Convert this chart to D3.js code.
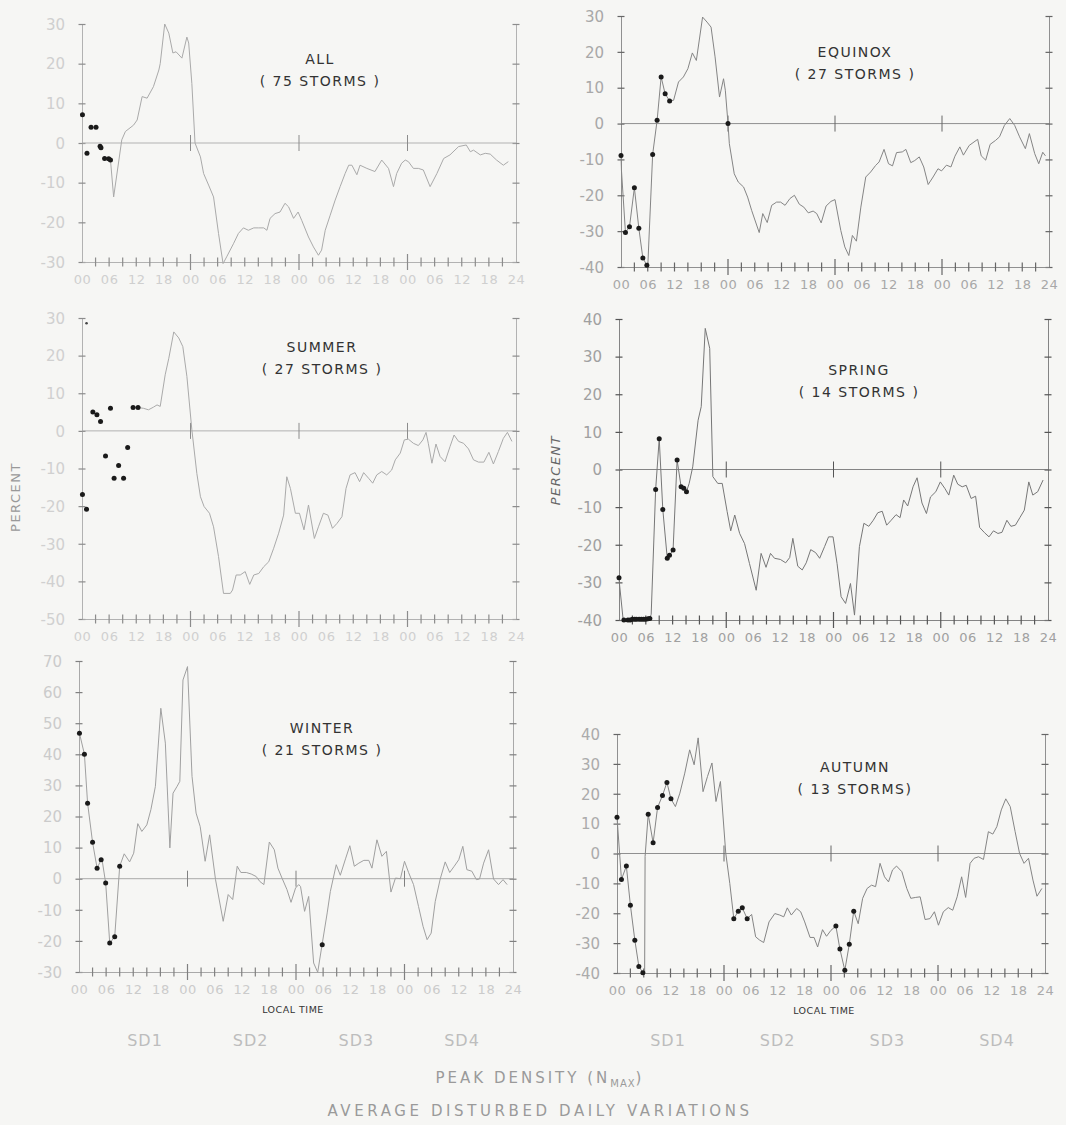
<!DOCTYPE html>
<html><head><meta charset="utf-8">
<script src="https://cdn.jsdelivr.net/npm/d3@7"></script>
<style>html,body{margin:0;padding:0;background:#f6f6f4;}svg{display:block;}</style>
</head><body>
<script>
// ---------- DATA ----------
const xTickLabels = ["00","06","12","18","00","06","12","18","00","06","12","18","00","06","12","18","24"];
const sdLabels = ["SD1","SD2","SD3","SD4"];

const allTitle = ["ALL", "( 75  STORMS )"];
const allLine = [[5.9,-4],[6.3,-4.3],[7,-13.6],[8.8,0.8],[9.6,2.9],[11.4,4.5],[12.2,5.8],[13.3,11.7],[14.4,11.3],[15.8,14.2],[17,18.4],[17.3,20],[18.3,30],[19.2,27.7],[20.1,22.7],[20.8,23],[22.1,21.4],[23.2,26.7],[23.6,25.2],[24.3,15],[25,0],[26.2,-3.5],[26.9,-7.7],[28,-10.6],[29.1,-13.6],[30.2,-22.8],[31.2,-30.4],[32,-28.7],[33.5,-25.4],[34.6,-22.8],[35.7,-21.4],[36.8,-22],[38,-21.4],[39,-21.4],[40.2,-21.4],[40.9,-22],[41.6,-19],[42.7,-17.8],[43.8,-17.4],[44.9,-15.2],[45.7,-16.1],[46.8,-19],[47.8,-17.4],[48.6,-19.5],[50.1,-23.7],[51.2,-26.2],[52.3,-28.3],[53,-27],[53.8,-22],[54.9,-18.2],[56,-14.4],[57.1,-11],[58.2,-7.7],[59,-5.6],[59.7,-5.6],[60.8,-8],[61.5,-5.6],[63,-6.4],[64.8,-7.2],[66.3,-4.3],[67.8,-6.4],[68.9,-11],[69.6,-7.7],[70.7,-5.1],[71.5,-4.3],[72.2,-4.7],[73.3,-6.4],[74.4,-6.4],[75.5,-6.8],[77,-11],[78.5,-7.7],[80,-3.9],[81.4,-3],[83.3,-0.9],[85,-0.5],[85.9,-2.2],[86.6,-1.8],[88.1,-3],[89.2,-2.6],[90.3,-2.8],[91.7,-4.3],[93.2,-5.6],[94.3,-4.7]];
const allDots = [[0.1,7.1],[1.1,-2.6],[2,4],[3.1,4],[4,-0.8],[4.2,-1.2],[5,-3.9],[5.9,-4],[6.3,-4.3]];

const equinoxTitle = ["EQUINOX", "( 27  STORMS )"];
const equinoxLine = [[0,-8.9],[0.1,-13],[1,-30.4],[1.9,-28.8],[3,-17.9],[4,-29.2],[4.9,-37.5],[5.8,-39.5],[6,-40],[7.1,-8.6],[8.1,0.9],[9,13],[9.9,8.3],[10.9,6.3],[11.8,6.5],[12.9,11.6],[14,13],[15,15.3],[16,19.7],[16.9,17.6],[18.3,29.7],[19.3,28.3],[20.2,26.9],[21.1,18.6],[22.1,7.4],[23,12.5],[23.4,9.3],[24,0],[24.3,-5.6],[25.4,-14],[26.3,-16.3],[27.5,-17.7],[28.4,-20.5],[29.3,-24.2],[31,-30.4],[31.8,-25.1],[32.8,-27.6],[33.8,-22.8],[34.9,-21.9],[35.8,-21.9],[36.8,-22.8],[37.9,-20.9],[38.9,-20],[40,-22.5],[41,-23.3],[42,-24.9],[43.1,-24.4],[43.9,-25.1],[44.9,-27.7],[46,-23],[47.1,-21.7],[48,-21.2],[49.3,-29.8],[50.2,-34.4],[51.1,-36.8],[51.9,-31.2],[52.8,-32.8],[53.8,-23.3],[54.9,-14.9],[56,-13.5],[57.1,-11.7],[57.9,-10.7],[59,-7.2],[60,-11.2],[60.9,-11.8],[61.8,-8.1],[63.1,-7.9],[63.9,-7.2],[65,-10.9],[65.9,-10.3],[66.9,-9.3],[67.9,-12.1],[68.9,-17],[70,-14.9],[71.1,-12.6],[71.9,-13.2],[73,-11.6],[74,-12.1],[74.9,-9.1],[76,-6.5],[76.8,-8.8],[78.1,-6.1],[80,-4.4],[80.8,-9],[81.8,-10.2],[82.8,-5.8],[84,-4.7],[84.9,-3.7],[86,-0.5],[87.2,1.4],[88.3,-0.5],[89.4,-3.7],[90.7,-7],[91.6,-2.8],[92.8,-8.4],[93.7,-11.2],[94.6,-8],[95.2,-9]];
const equinoxDots = [[0,-8.9],[1,-30.4],[1.9,-28.8],[3,-17.9],[4,-29.2],[4.9,-37.5],[5.8,-39.5],[7.1,-8.6],[8.1,0.9],[9,13],[9.9,8.3],[10.9,6.3],[24,0]];

const summerTitle = ["SUMMER", "( 27  STORMS )"];
const summerLine = [[11.3,6.2],[12.4,6.2],[13.6,6],[14.7,5.6],[15.8,6.3],[16.6,6.9],[17.3,6.5],[18.4,14.9],[19.2,19.3],[20.3,26.3],[21.4,24.7],[22.3,22.4],[23.2,14.5],[24.3,0.3],[25.4,-11.3],[26.2,-17.5],[27,-20.1],[28.2,-21.9],[29.1,-25.5],[30.2,-33.4],[31.3,-43.2],[32.8,-43.2],[33.3,-42.3],[34.1,-38.3],[35,-38.3],[36.1,-37.4],[37.1,-40.8],[38,-38.3],[39.1,-37.9],[40.2,-36.1],[41.3,-34.8],[42.4,-31.2],[43.5,-27.2],[44.6,-22.4],[45.3,-12.2],[46.1,-15.3],[47.2,-21.9],[48.1,-21.9],[49.1,-26.3],[50.1,-19.7],[51.4,-28.6],[52.3,-25.5],[53.4,-21.9],[54.4,-22.4],[55.4,-25.9],[56.4,-24.6],[57.5,-22.8],[58.4,-15.3],[59.3,-11.7],[60.4,-11.1],[61.4,-13.5],[62.3,-11.1],[63.4,-12.6],[64.3,-13.9],[65.2,-11.7],[66.3,-10.8],[67.4,-11.7],[68.5,-10.4],[69.3,-7.7],[70.4,-5.9],[71.3,-2.4],[72.2,-2.2],[73.3,-3.3],[74.4,-3.9],[75.4,-2.4],[76.1,-0.4],[76.6,-3.3],[77.4,-8.6],[78.3,-3.5],[79.2,-6.8],[80.3,-8.2],[81.4,-4.2],[82.3,-1.1],[83.3,-2.8],[84.4,-3.3],[85.5,-4.8],[86.6,-7.7],[87.7,-8.3],[88.9,-8.3],[90,-5.7],[91,-8.8],[92.1,-5.5],[93.2,-2],[94.1,-0.4],[95.1,-2.8]];
const summerDots = [[0.1,-16.9],[1,-20.8],[2.4,5],[3.3,4.3],[4.1,2.5],[5.2,-6.7],[6.3,6],[7.1,-12.6],[8.1,-9.2],[9.2,-12.6],[10.1,-4.4],[11.3,6.2],[12.4,6.2]];
const summerSmallDots = [[1,28.6]];

const springTitle = ["SPRING", "( 14  STORMS )"];
const springLine = [[0,-28.8],[0.1,-30.3],[0.9,-39.6],[1.1,-40],[2,-40],[3,-39.8],[3.9,-39.8],[5,-39.8],[6,-39.8],[6.9,-39.6],[7.2,-38.5],[8.2,-5.3],[9,8.2],[9.8,-10.6],[10.8,-23.6],[11.3,-22.8],[12.1,-21.4],[13,2.5],[13.9,-4.6],[14.5,-5],[15.1,-5.9],[15.7,-3.7],[16.5,0.7],[17.7,13.1],[18.4,16.7],[19.3,37.5],[20.3,32.2],[21,-1.9],[22.1,-3.7],[23.1,-3.7],[24.2,-11.2],[25,-16.3],[25.9,-12.1],[27,-17],[28.1,-19.7],[29.2,-25],[30.7,-32.1],[31.8,-22.3],[32.9,-26],[33.9,-22.3],[34.8,-23.6],[36.1,-23.9],[37.3,-24.8],[38.2,-23.4],[38.9,-18.3],[40,-25.7],[41,-26.7],[41.9,-24.8],[42.9,-21.3],[44,-22.1],[44.9,-23.6],[46,-20.5],[46.9,-17.9],[47.9,-17.9],[48.8,-25],[49.7,-33.8],[50.7,-35.6],[51.8,-30.3],[52.7,-38.7],[53.8,-20.5],[54.8,-14.3],[55.9,-15.1],[56.9,-13.5],[57.9,-11.5],[58.9,-11.1],[59.9,-14.8],[60.9,-13.5],[62,-12],[62.9,-12.8],[63.7,-8.1],[64.6,-9.7],[65.8,-4.6],[66.7,-2.2],[67.8,-8.9],[68.8,-11.7],[69.7,-7.3],[70.9,-5.9],[71.9,-3.3],[72.9,-5],[73.8,-6.8],[74.9,-1.5],[75.8,-3.9],[76.8,-4.6],[77.7,-4.2],[78.8,-7.7],[79.8,-7.1],[80.7,-15.4],[81.8,-16.8],[82.8,-17.9],[83.8,-16.3],[84.8,-17],[85.7,-16.7],[86.8,-13.5],[87.7,-15.1],[88.7,-14.8],[89.7,-12.8],[90.7,-10.8],[91.7,-3.3],[92.6,-6.8],[93.7,-5.9],[94.9,-2.8]];
const springDots = [[0,-28.8],[1.1,-40],[2,-40],[2.5,-40],[3,-39.8],[3.5,-39.8],[3.9,-39.8],[4.5,-39.8],[5,-39.8],[5.5,-39.8],[6,-39.8],[6.5,-39.7],[6.9,-39.6],[8.2,-5.3],[9,8.2],[9.8,-10.6],[10.8,-23.6],[11.3,-22.8],[12.1,-21.4],[13,2.5],[13.9,-4.6],[14.5,-5],[15.1,-5.9]];

const winterTitle = ["WINTER", "( 21  STORMS )"];
const winterLine = [[0.1,46.8],[1.2,40],[1.9,24.3],[3,11.7],[4,3.4],[4.9,6.1],[5.1,6.1],[5.9,-1.4],[6.8,-20.7],[7.9,-18.7],[9,4],[10,8],[11.2,5.4],[12.1,8.2],[13,17.7],[13.9,15.2],[15,17.3],[15.9,22.2],[16.9,29.7],[18.1,54.8],[19.1,43.6],[20.1,9.9],[20.8,27.5],[21.7,29.7],[22.3,31.3],[23,63.9],[24,68.2],[25,32.9],[25.9,21.1],[26.8,16.8],[27.9,5.6],[28.9,14.1],[30.2,-0.3],[31.9,-13.7],[33,-5.1],[34,-6.7],[35,4],[35.8,2],[37,2],[38.1,1.5],[39.2,0.7],[40,-0.9],[40.9,-1.9],[42.1,11.8],[43.2,9.3],[44,3.4],[44.9,0.2],[46,-3.5],[46.9,-7.6],[47.9,-3],[48.6,-1.9],[49,-2.5],[49.9,-10.5],[50.8,-5.7],[51.9,-27.1],[52.8,-30.1],[53.8,-20.9],[54.9,-11],[55.6,-4.1],[56.9,4.5],[57.8,1.1],[59,6.6],[59.9,10.6],[60.9,4],[61.9,5],[63,5.9],[64.1,5.9],[64.8,3.4],[65.9,12.5],[67,7.2],[68,8.8],[69,-4.3],[70,0.2],[71.1,0],[72,5.6],[72.9,2],[74,-1.9],[75.1,-8.9],[76.1,-15.3],[77,-19.6],[77.9,-17.5],[78.8,-7.3],[79.9,-0.1],[81,5.4],[82,2],[83,4],[84,6.1],[84.9,10.4],[85.8,2.9],[86.9,2.4],[87.9,-0.3],[88.6,-0.1],[89.5,5],[90.6,9.3],[91.7,-0.1],[92.8,-1.9],[93.8,-0.3],[94.7,-1.9]];
const winterDots = [[0.1,46.8],[1.2,40],[1.9,24.3],[3,11.7],[4,3.4],[4.9,6.1],[5.9,-1.4],[6.8,-20.7],[7.9,-18.7],[9,4],[53.8,-21.2]];

const autumnTitle = ["AUTUMN", "( 13  STORMS)"];
const autumnLine = [[0,12.1],[0.2,8],[1,-8.7],[2.1,-4.2],[3,-17.3],[4,-29],[4.9,-37.8],[5.8,-39.9],[6.2,-40],[6.3,-1],[7,13.1],[8.1,3.6],[9.1,15.4],[10.2,19.4],[11.2,23.8],[12.1,18.3],[13.1,15.7],[14.1,20.2],[15.2,26.9],[16.3,34.7],[17.3,29.7],[18.2,38.7],[19.3,20.7],[20.3,25.8],[21.3,30.3],[22.2,17.4],[23.2,24.1],[24.4,0],[25.3,-10],[26.2,-21.8],[27.2,-19.3],[28.1,-18.2],[29.2,-21.8],[30.2,-20.4],[31.1,-27.9],[32,-29],[32.9,-29.8],[34.1,-22.9],[35.4,-20.1],[36.5,-20.6],[37.4,-21.2],[38.2,-18.2],[39.1,-20.6],[40.3,-18.4],[41.2,-19.5],[42.1,-22.9],[43.3,-28.1],[44.2,-28.1],[45,-31.3],[46.1,-25.5],[47,-27.7],[48,-25.7],[49.1,-24.3],[50,-32],[51.1,-39.1],[52.1,-30.4],[53.1,-19.3],[54.1,-23.5],[55.1,-15],[56.1,-11.7],[57.1,-10.6],[58,-11.1],[59,-3.3],[60,-7.8],[60.9,-9.5],[61.8,-5.5],[62.7,-4.2],[63.9,-6.1],[65,-11.7],[65.9,-15],[67,-14.7],[68,-14.5],[69.1,-22.1],[70.2,-21.8],[71.2,-19.5],[72.1,-24],[73.2,-19.5],[74.3,-18.1],[75.3,-19],[76.3,-14.5],[77.3,-7.8],[78.2,-14.7],[79.2,-3.3],[80.1,-1.6],[81.1,-1.1],[82.2,-2],[83.3,7.3],[84.3,6.5],[85.2,9],[86.2,14.6],[87.2,18.3],[88.2,15.7],[89.3,7.3],[90.3,0],[91.3,-3.3],[92.3,-1.6],[93.3,-8.9],[94.2,-14.3],[95.3,-11.7]];
const autumnDots = [[0,12.1],[1,-8.7],[2.1,-4.2],[3,-17.3],[4,-29],[4.9,-37.8],[5.8,-39.9],[7,13.1],[8.1,3.6],[9.1,15.4],[10.2,19.4],[11.2,23.8],[12.1,18.3],[26.2,-21.8],[27.2,-19.3],[28.1,-18.2],[29.2,-21.8],[49.1,-24.3],[50,-32],[51.1,-39.1],[52.1,-30.4],[53.1,-19.3]];

// ---------- LAYOUT ----------
const panels = [
  {title: allTitle, line: allLine, dots: allDots, small: [], ymin:-30, ymax:30, x0:82, x1:516, yTop:24, yBot:262, tx:320, ty:64, ink:"#aaaaaa", tick:"#8c8c8c", lab:"#cfcfcf"},
  {title: equinoxTitle, line: equinoxLine, dots: equinoxDots, small: [], ymin:-40, ymax:30, x0:621, x1:1049, yTop:16, yBot:267, tx:855, ty:57, ink:"#858585", tick:"#666666", lab:"#a8a8a8"},
  {title: summerTitle, line: summerLine, dots: summerDots, small: summerSmallDots, ymin:-50, ymax:30, x0:82, x1:516, yTop:318, yBot:619, tx:322, ty:352, ink:"#aaaaaa", tick:"#8c8c8c", lab:"#d0d0d0", percent:{x:20, y:497, italic:false}},
  {title: springTitle, line: springLine, dots: springDots, small: [], ymin:-40, ymax:40, x0:619, x1:1048, yTop:319, yBot:620, tx:859, ty:375, ink:"#777777", tick:"#555555", lab:"#a0a0a0", percent:{x:560, y:470, italic:true}},
  {title: winterTitle, line: winterLine, dots: winterDots, small: [], ymin:-30, ymax:70, x0:79, x1:513, yTop:661, yBot:972, tx:322, ty:733, ink:"#a0a0a0", tick:"#808080", lab:"#cbcbcb"},
  {title: autumnTitle, line: autumnLine, dots: autumnDots, small: [], ymin:-40, ymax:40, x0:617, x1:1045, yTop:734, yBot:973, tx:855, ty:772, ink:"#858585", tick:"#666666", lab:"#ababab"}
];

const svg = d3.select("body").append("svg").attr("width",1066).attr("height",1125);
svg.append("rect").attr("width",1066).attr("height",1125).attr("fill","#f6f6f4");

const FONT = "'DejaVu Sans', sans-serif";

panels.forEach(p => {
  const g = svg.append("g");
  const x = d3.scaleLinear().domain([0,96]).range([p.x0,p.x1]);
  const y = d3.scaleLinear().domain([p.ymin,p.ymax]).range([p.yBot,p.yTop]);
  const yTicks = d3.range(p.ymin, p.ymax+0.1, 10);

  // left axis
  const yAxisL = d3.axisLeft(y).tickValues(yTicks).tickSize(0).tickFormat(d => d);
  const gl = g.append("g").attr("transform",`translate(${p.x0},0)`).call(yAxisL);
  gl.select(".domain").attr("stroke",p.ink).attr("stroke-width",0.9);
  gl.selectAll("text").attr("x",-17).attr("font-family",FONT).attr("font-size",15)
    .attr("fill",p.lab).attr("dy","0.35em");
  gl.selectAll(".tick").append("line").attr("x1",-3.5).attr("x2",3.5).attr("stroke",p.tick).attr("stroke-width",1.2);

  // right axis
  const yAxisR = d3.axisRight(y).tickValues(yTicks).tickSize(0).tickFormat("");
  const gr = g.append("g").attr("transform",`translate(${p.x1},0)`).call(yAxisR);
  gr.select(".domain").attr("stroke",p.ink).attr("stroke-width",0.9);
  gr.selectAll(".tick").append("line").attr("x1",-3.5).attr("x2",3.5).attr("stroke",p.tick).attr("stroke-width",1.2);

  // bottom axis
  const xAxis = d3.axisBottom(x).tickValues(d3.range(0,97,6)).tickSize(0).tickFormat((d,i)=>xTickLabels[i]);
  const gb = g.append("g").attr("transform",`translate(0,${p.yBot})`).call(xAxis);
  gb.select(".domain").attr("stroke",p.ink).attr("stroke-width",0.9);
  gb.selectAll("text").attr("y",17).attr("dy","0.35em").attr("font-family",FONT).attr("font-size",13)
    .attr("fill",p.lab).attr("letter-spacing",0.5);
  // small + ticks every 3 h, tall ones at day boundaries
  g.append("g").attr("class","xminor").selectAll("line").data(d3.range(3,96,3)).join("line")
    .attr("x1",d=>x(d)).attr("x2",d=>x(d))
    .attr("y1",d=> d%24===0 ? p.yBot-8 : p.yBot-4.5)
    .attr("y2",d=> d%24===0 ? p.yBot+8 : p.yBot+4.5)
    .attr("stroke",p.tick).attr("stroke-width",1.2);

  // zero line with day ticks
  g.append("line").attr("x1",p.x0).attr("x2",p.x1).attr("y1",y(0)).attr("y2",y(0))
    .attr("stroke",p.ink).attr("stroke-width",0.9);
  g.append("g").attr("class","zday").selectAll("line").data([24,48,72]).join("line")
    .attr("x1",d=>x(d)).attr("x2",d=>x(d)).attr("y1",y(0)-8).attr("y2",y(0)+8)
    .attr("stroke",p.tick).attr("stroke-width",1);

  // data line
  const lineGen = d3.line().x(d=>x(d[0])).y(d=>y(d[1]));
  g.append("path").datum(p.line).attr("d",lineGen).attr("fill","none")
    .attr("stroke",p.ink).attr("stroke-width",1).attr("stroke-linejoin","round");

  // dots
  g.append("g").selectAll("circle").data(p.dots).join("circle")
    .attr("cx",d=>x(d[0])).attr("cy",d=>y(d[1])).attr("r",2.5).attr("fill","#1a1a1a");
  g.append("g").selectAll("circle").data(p.small).join("circle")
    .attr("cx",d=>x(d[0])).attr("cy",d=>y(d[1])).attr("r",1.3).attr("fill","#444");

  // titles
  p.title.forEach((t,i)=>{
    g.append("text").attr("x",p.tx).attr("y",p.ty+i*22).attr("text-anchor","middle")
      .attr("font-family",FONT).attr("font-size",14).attr("letter-spacing",1.5)
      .attr("fill","#333").text(t);
  });

  if (p.percent) {
    g.append("text").attr("transform",`translate(${p.percent.x},${p.percent.y}) rotate(-90)`)
      .attr("text-anchor","middle").attr("font-family",FONT).attr("font-size",13)
      .attr("letter-spacing",1.5).attr("fill", p.percent.italic ? "#666" : "#999")
      .attr("font-style", p.percent.italic ? "italic" : "normal").text("PERCENT");
  }
});

// bottom labels
[[293,1013],[824,1014]].forEach(([cx,cy])=>{
  svg.append("text").attr("x",cx).attr("y",cy).attr("text-anchor","middle").attr("font-family",FONT)
    .attr("font-size",9.5).attr("fill","#333").attr("letter-spacing",0.5).text("LOCAL TIME");
});
const sdLeft = d3.scalePoint().domain(sdLabels).range([145,462]);
const sdRight = d3.scalePoint().domain(sdLabels).range([668,997]);
[sdLeft, sdRight].forEach(sc=>{
  svg.append("g").selectAll("text").data(sdLabels).join("text")
    .attr("x",d=>sc(d)).attr("y",1046).attr("text-anchor","middle").attr("font-family",FONT)
    .attr("font-size",16).attr("letter-spacing",1).attr("fill","#bdbdbd").text(d=>d);
});
const peak = svg.append("text").attr("x",540).attr("y",1083).attr("text-anchor","middle")
  .attr("font-family",FONT).attr("font-size",15).attr("letter-spacing",3).attr("fill","#9a9a9a");
peak.append("tspan").text("PEAK DENSITY (N");
peak.append("tspan").attr("font-size",10).attr("dy",4).attr("letter-spacing",1).text("MAX");
peak.append("tspan").attr("dy",-4).text(")");
svg.append("text").attr("x",540).attr("y",1116).attr("text-anchor","middle")
  .attr("font-family",FONT).attr("font-size",15).attr("letter-spacing",3.6).attr("fill","#9a9a9a")
  .text("AVERAGE DISTURBED DAILY VARIATIONS");
</script>
</body></html>
